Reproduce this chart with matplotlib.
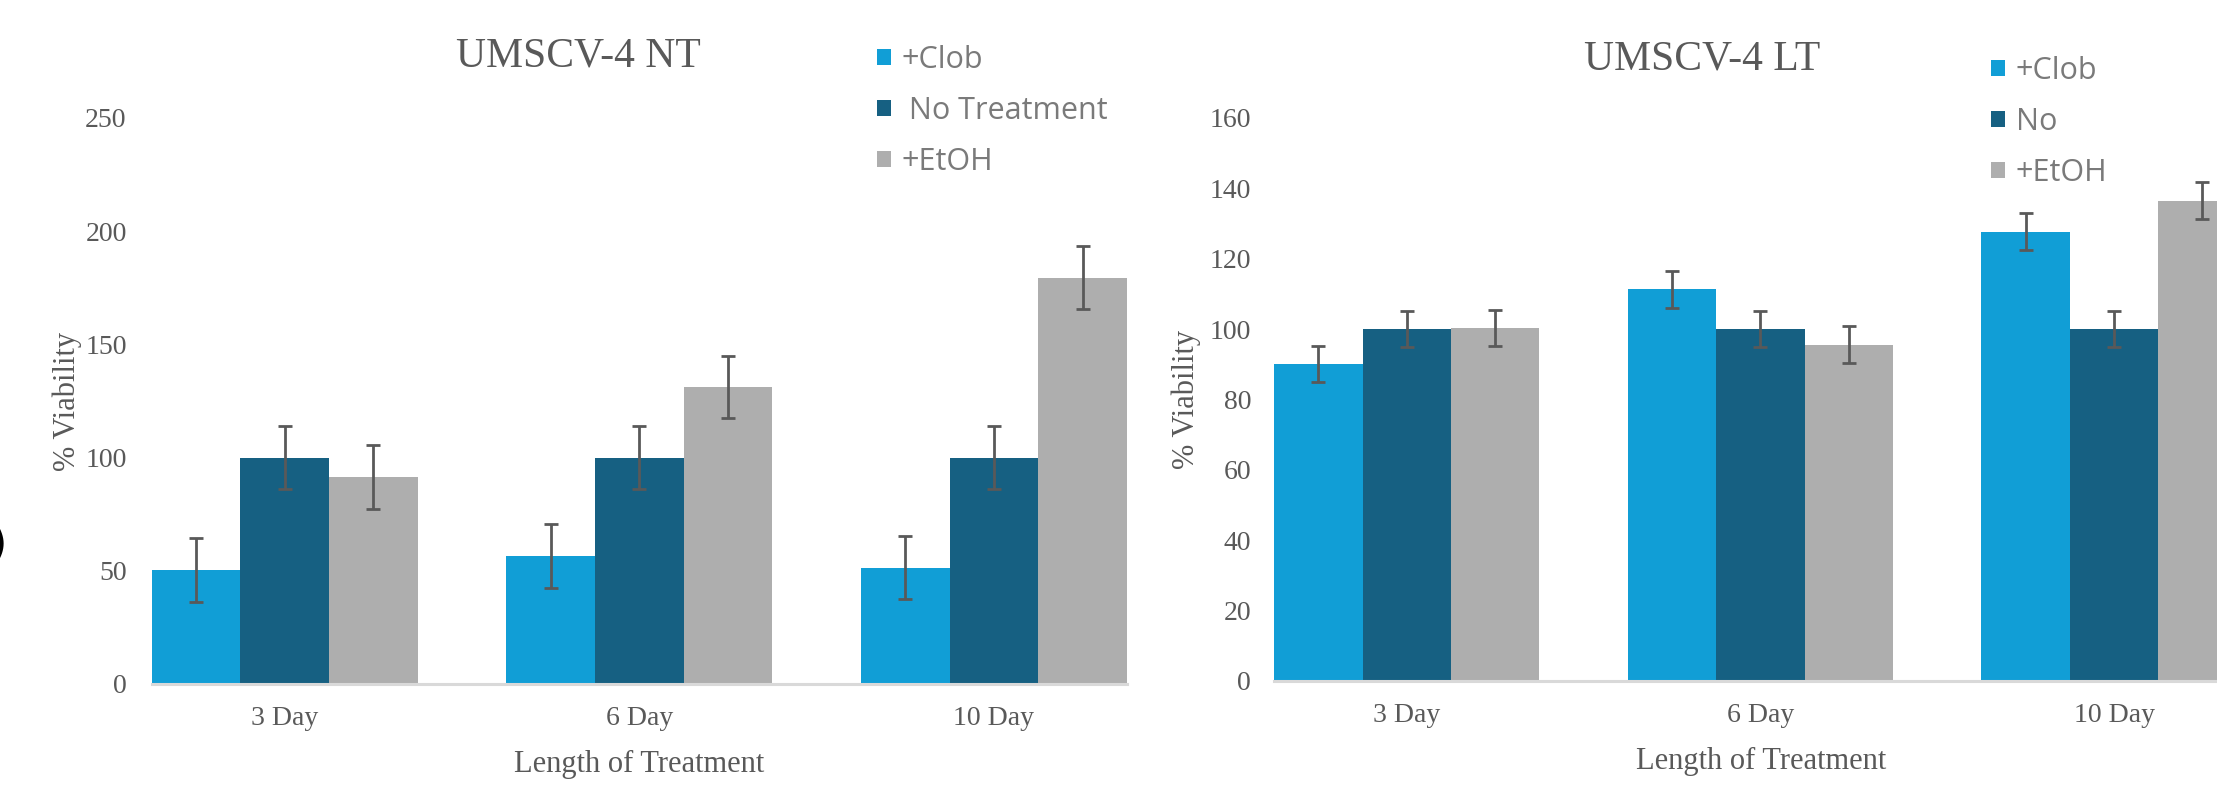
import numpy as np
import matplotlib.pyplot as plt

# Data
days = ["3 Day", "6 Day", "10 Day"]

nt_clob = [50.3, 56.5, 51.4]
nt_none = [100, 100, 100]
nt_etoh = [91.5, 131.2, 179.5]
nt_err_clob = [14, 14, 14]
nt_err_none = [14, 14, 14]
nt_err_etoh = [14, 13.7, 13.9]

lt_clob = [90.2, 111.3, 127.7]
lt_none = [100, 100, 100]
lt_etoh = [100.3, 95.6, 136.5]
lt_err_clob = [5.1, 5.2, 5.2]
lt_err_none = [5.2, 5.2, 5.2]
lt_err_etoh = [5.2, 5.2, 5.2]

colors = ["#119ED6", "#166082", "#AEAEAE"]
text_col = "#595959"
serif = "Liberation Serif"
sans = "Open Sans"

fig = plt.figure(figsize=(22.17, 7.86), dpi=100)
ax1 = fig.add_axes([0.0684, 0.1298, 0.4399, 0.7201])
ax2 = fig.add_axes([0.5747, 0.1336, 0.4253, 0.7163])

x = np.arange(len(days))
w = 0.25


def draw(ax, series, errs, labels, title, ymax, ystep, xright, title_xy, ylab_x, xlab_x, ypad):
    handles = []
    for i, (vals, err, lab) in enumerate(zip(series, errs, labels)):
        b = ax.bar(x + (i - 1) * w, vals, w, color=colors[i], label=lab,
                   yerr=err, error_kw=dict(ecolor=text_col, elinewidth=2.0,
                                           capsize=5, capthick=2.0))
        handles.append(b)
    ax.set_xlim(-1.5 * w, xright)
    ax.set_ylim(0, ymax)
    ax.set_yticks(np.arange(0, ymax + 1, ystep))
    ax.set_xticks(x)
    ax.set_xticklabels(days)
    for s in ["top", "right", "left"]:
        ax.spines[s].set_visible(False)
    ax.spines["bottom"].set_color("#D9D9D9")
    ax.spines["bottom"].set_linewidth(2.2)
    ax.tick_params(axis="both", length=0, labelsize=20, labelcolor=text_col)
    ax.tick_params(axis="y", pad=ypad)
    ax.tick_params(axis="x", pad=15.5)
    for t in ax.get_xticklabels() + ax.get_yticklabels():
        t.set_fontfamily(serif)
    ax.set_title(title, fontsize=30, family=serif, color=text_col,
                 x=title_xy[0], y=title_xy[1], va="center")
    ax.set_ylabel("% Viability", fontsize=22, family=serif, color=text_col)
    ax.yaxis.label.set_va("center")
    ax.yaxis.set_label_coords(ylab_x, 0.5)
    ax.set_xlabel("Length of Treatment", fontsize=22, family=serif, color=text_col)
    ax.xaxis.set_label_coords(xlab_x, -0.143)
    ax.xaxis.label.set_va("center")
    return handles


h1 = draw(ax1, [nt_clob, nt_none, nt_etoh], [nt_err_clob, nt_err_none, nt_err_etoh],
          ["+Clob", " No Treatment", "+EtOH"], "UMSCV-4 NT", 250, 50, 2 + 1.5 * w,
          (0.438, 1.094), -0.087, 0.5, 18)
h2 = draw(ax2, [lt_clob, lt_none, lt_etoh], [lt_err_clob, lt_err_none, lt_err_etoh],
          ["+Clob", "No", "+EtOH"], "UMSCV-4 LT", 160, 20, 2.291,
          (0.454, 1.089), -0.093, 0.516, 16.5)

for ax, anchor in [(ax1, (0.3956, 0.8588)), (ax2, (0.8981, 0.8448))]:
    leg = ax.legend(loc="center left", bbox_to_anchor=anchor,
                    bbox_transform=fig.transFigure, frameon=False,
                    prop={"family": sans, "size": 22}, handlelength=0.45,
                    handleheight=0.45, handletextpad=0.35, labelspacing=0.69,
                    borderpad=0, borderaxespad=0)
    for t in leg.get_texts():
        t.set_color("#7A7A7A")
    for p in leg.get_patches():
        p.set_edgecolor("none")

# cut-off panel label at the left edge
fig.text(0.0032, 1 - 546 / 786, ")", fontsize=34, fontweight="bold",
         color="black", ha="right", va="center")

fig.savefig("out.png", dpi=100)
